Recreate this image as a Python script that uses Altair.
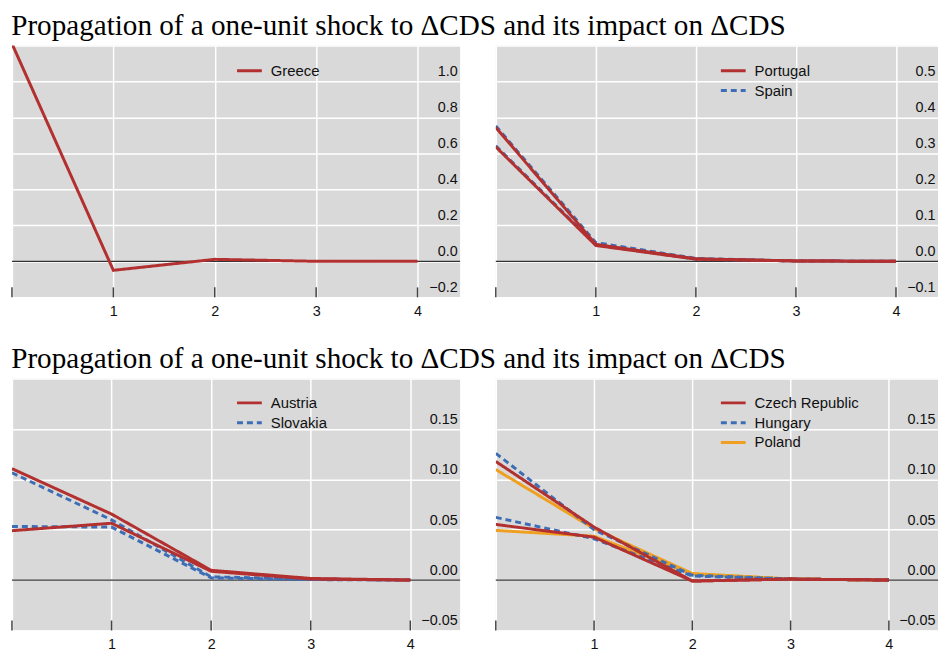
import altair as alt
import pandas as pd

# ---------------- data ----------------
horizons = [0, 1, 2, 3, 4]
tick_positions = [0, 1, 2, 3, 4]

greece_a = [1.21, -0.05, 0.011, 0.0, 0.0]

portugal_a = [0.372, 0.047, 0.007, 0.001, 0.0]
portugal_b = [0.318, 0.044, 0.006, 0.001, 0.0]
spain_a = [0.376, 0.052, 0.008, 0.001, 0.0]
spain_b = [0.321, 0.046, 0.006, 0.001, 0.0]

austria_a = [0.1106, 0.0655, 0.0097, 0.0016, 0.0]
austria_b = [0.049, 0.0564, 0.0087, 0.001, 0.0]
slovakia_a = [0.1065, 0.0597, 0.0032, 0.001, 0.0]
slovakia_b = [0.0532, 0.0526, 0.0022, 0.0005, 0.0]

czech_a = [0.1177, 0.0526, -0.001, 0.001, 0.0]
czech_b = [0.0552, 0.0426, -0.001, 0.001, 0.0]
hungary_a = [0.1258, 0.050, 0.0048, 0.001, 0.0]
hungary_b = [0.0622, 0.041, 0.004, 0.001, 0.0]
poland_a = [0.1097, 0.051, 0.0065, 0.001, 0.0]
poland_b = [0.0493, 0.0435, 0.006, 0.001, 0.0]

title_text = "Propagation of a one-unit shock to \u0394CDS and its impact on \u0394CDS"

RED = "#B2302F"
BLUE = "#3D6DB5"
ORANGE = "#F0A020"
SOLID = [1, 0]
DASH = [6, 4]

H = 254
W_LEFT = 452
W_RIGHT = 446
SANS = "Liberation Sans"


def build_df(series):
    rows = []
    for country, lines in series:
        for lid, vals in enumerate(lines):
            for h, v in zip(horizons, vals):
                rows.append({"country": country, "line": f"{country}{lid}", "h": h, "v": v})
    return pd.DataFrame(rows)


def make_panel(series, colors, dashes, draw_order, ydom, yvals, yfmt, xmax, width, legend_y):
    df = build_df(series)
    countries = [s[0] for s in series]
    xscale = alt.Scale(domain=[0, xmax], nice=False, zero=False)
    yscale = alt.Scale(domain=ydom, nice=False, zero=False)
    top = ydom[1]
    xaxis = alt.Axis(values=tick_positions, labelExpr="datum.value == 0 ? '' : datum.label",
                     grid=True, gridColor="white", gridWidth=1.5, ticks=False, domain=False,
                     title=None, labelFontSize=14.5, labelPadding=7, labelFlush=False,
                     labelColor="#111111", labelFont=SANS)
    yaxis = alt.Axis(orient="right", values=yvals, format=yfmt,
                     labelExpr=f"datum.value >= {top - 1e-9} ? '' : datum.label",
                     grid=True, gridColor="white", gridWidth=1.5, ticks=False, domain=False,
                     title=None, labelAlign="right", labelPadding=-3, labelBaseline="alphabetic",
                     labelOffset=-5.5, labelFontSize=14.5, labelFlush=False,
                     labelColor="#111111", labelFont=SANS)
    leg = alt.Legend(orient="none", legendX=228, legendY=legend_y, title=None,
                     symbolType="M-1.25,0L1.25,0", symbolSize=400, symbolStrokeWidth=3,
                     labelFontSize=15, labelOffset=10, rowPadding=0, padding=0,
                     labelFont=SANS, labelColor="#111111")
    color = alt.Color("country:N", scale=alt.Scale(domain=countries, range=colors), legend=leg)
    dash = alt.StrokeDash("country:N", scale=alt.Scale(domain=countries, range=dashes), legend=leg)

    base = alt.Chart(df)
    layers = []
    zero = alt.Chart(pd.DataFrame({"z": [0.0]})).mark_rule(color="#333333", strokeWidth=1.2).encode(
        y=alt.Y("z:Q", scale=yscale, axis=yaxis))
    layers.append(zero)
    for c in draw_order:
        layers.append(
            base.transform_filter(alt.datum.country == c)
            .mark_line(strokeWidth=3, clip=True)
            .encode(x=alt.X("h:Q", scale=xscale, axis=xaxis),
                    y=alt.Y("v:Q", scale=yscale, axis=yaxis),
                    color=color, strokeDash=dash, detail="line:N")
        )
    ticks = alt.Chart(pd.DataFrame({"t": tick_positions})).mark_rule(color="#444444", strokeWidth=1.5).encode(
        x=alt.X("t:Q", scale=xscale, axis=xaxis),
        y=alt.value(H - 10), y2=alt.value(H))
    layers.append(ticks)
    return alt.layer(*layers).properties(width=width, height=H)


title_params = dict(anchor="start", font="Liberation Serif", fontSize=29.4, fontWeight="normal",
                    color="black", offset=4)

p_greece = make_panel([("Greece", [greece_a])], [RED], [SOLID], ["Greece"],
                      [-0.2, 1.2], [-0.2, 0.0, 0.2, 0.4, 0.6, 0.8, 1.0, 1.2], ".1f", 4.42, W_LEFT, 14)
p_iberia = make_panel([("Portugal", [portugal_a, portugal_b]), ("Spain", [spain_a, spain_b])],
                      [RED, BLUE], [SOLID, DASH], ["Spain", "Portugal"],
                      [-0.1, 0.6], [-0.1, 0.0, 0.1, 0.2, 0.3, 0.4, 0.5, 0.6], ".1f", 4.42, W_RIGHT, 14)
p_at = make_panel([("Austria", [austria_a, austria_b]), ("Slovakia", [slovakia_a, slovakia_b])],
                  [RED, BLUE], [SOLID, DASH], ["Slovakia", "Austria"],
                  [-0.05, 0.2], [-0.05, 0.0, 0.05, 0.10, 0.15, 0.2], ".2f", 4.5, W_LEFT, 13)
p_v4 = make_panel([("Czech Republic", [czech_a, czech_b]), ("Hungary", [hungary_a, hungary_b]),
                   ("Poland", [poland_a, poland_b])],
                  [RED, BLUE, ORANGE], [SOLID, DASH, SOLID], ["Poland", "Hungary", "Czech Republic"],
                  [-0.05, 0.2], [-0.05, 0.0, 0.05, 0.10, 0.15, 0.2], ".2f", 4.5, W_RIGHT, 13)

row1 = alt.hconcat(p_greece, p_iberia, spacing=34).resolve_scale(
    color="independent", strokeDash="independent").properties(
    title=alt.TitleParams(title_text, **title_params))
row2 = alt.hconcat(p_at, p_v4, spacing=34).resolve_scale(
    color="independent", strokeDash="independent").properties(
    title=alt.TitleParams(title_text, **title_params))

chart = alt.vconcat(row1, row2, spacing=26).resolve_scale(
    color="independent", strokeDash="independent").properties(
    padding={"left": 3, "top": 0, "right": 0, "bottom": 0},
    background="white"
).configure_view(fill="#D9D9D9", strokeWidth=0)

chart.save("out.html", embed_options={"renderer": "svg", "actions": False})
